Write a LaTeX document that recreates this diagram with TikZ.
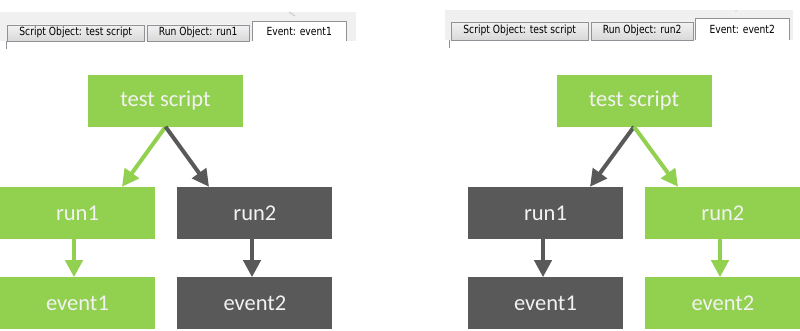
\documentclass[tikz,border=0pt]{standalone}
\usepackage{fontspec}
\setmainfont{Carlito}
\newfontfamily\tabfont[FakeStretch=0.82]{DejaVu Sans}
\usetikzlibrary{arrows.meta,positioning}
\definecolor{leaf}{HTML}{92D050}
\definecolor{slate}{HTML}{595959}
\definecolor{tabline}{HTML}{8F9296}
\definecolor{stripbg}{HTML}{F0F0F0}

\begin{document}
\begin{tikzpicture}[x=1pt, y=-1pt,
    node distance=38pt and 22pt,
    box/.style={rectangle, minimum width=155pt, minimum height=52pt, inner sep=0pt,
                font=\fontsize{22.5}{22.5}\selectfont, text=white!95!black},
    on/.style={box, fill=leaf},
    off/.style={box, fill=slate},
    link/.style={-{Triangle[length=17pt, width=17pt]}, line width=4pt},
    tab/.style={draw=tabline, inner sep=0pt, anchor=south west, minimum height=16pt,
                top color=white!95!black, bottom color=white!85!black,
                font=\tabfont\fontsize{11.2}{11.2}\selectfont},
    front/.style={tab, fill=white, draw=none, minimum height=19pt, top color=white, bottom color=white},
    strip/.style={fill=stripbg, draw=none}
  ]
  \useasboundingbox (0,0) rectangle (800,330);

  % ---- left window: run1 path ----
  \fill[strip] (0,12) rectangle (356,41);
  \draw[tabline] (6,41) -- (6,49);
  \draw[black!20, line width=1pt] (289,12) -- (295,16);
  \node[tab, minimum width=137pt] (lscript) at (7,41) {Script Object: test script};
  \node[tab, minimum width=102pt] (lrun) at (147,41) {Run Object: run1};
  \node[front, minimum width=94pt] (levent) at (252,41) {Event: event1};
  \draw[tabline] (levent.south west) |- (levent.north east) -- (levent.south east);

  \node[on] (ltest) at (165.5,100.5) {test script};
  \node[on] (lrun1) at (77.5,213) {run1};
  \node[off, right=of lrun1] (lrun2) {run2};
  \node[on, below=of lrun1] (levent1) {event1};
  \node[off, below=of lrun2] (levent2) {event2};

  \draw[link, leaf] (ltest.south) -- (lrun1.north east -| 122,0);
  \draw[link, slate] (ltest.south) -- (lrun2.north west -| 209,0);
  \draw[link, leaf] (lrun1.south -| 74,0) -- (levent1.north -| 74,0);
  \draw[link, slate] (lrun2.south -| 252,0) -- (levent2.north -| 252,0);

  % ---- right window: run2 path ----
  \fill[strip] (445,10) rectangle (793,40);
  \draw[tabline] (449,40) -- (449,48);
  \fill[black!15] (736,11) circle (1pt);
  \node[tab, minimum width=137pt, minimum height=18pt] (rscript) at (451,40) {Script Object: test script};
  \node[tab, minimum width=102pt, minimum height=18pt] (rrun) at (591,40) {Run Object: run2};
  \node[front, minimum width=94pt, minimum height=21pt] (revent) at (695,40) {Event: event2};
  \draw[tabline] (revent.south west) |- (revent.north east) -- (revent.south east);

  \node[on] (rtest) at (634,100.5) {test script};
  \node[off] (rrun1) at (545.5,213) {run1};
  \node[on, right=of rrun1] (rrun2) {run2};
  \node[off, below=of rrun1] (revent1) {event1};
  \node[on, below=of rrun2] (revent2) {event2};

  \draw[link, slate] (rtest.south) -- (rrun1.north east -| 590,0);
  \draw[link, leaf] (rtest.south) -- (rrun2.north west -| 678,0);
  \draw[link, slate] (rrun1.south -| 543,0) -- (revent1.north -| 543,0);
  \draw[link, leaf] (rrun2.south -| 720,0) -- (revent2.north -| 720,0);
\end{tikzpicture}
\end{document}
